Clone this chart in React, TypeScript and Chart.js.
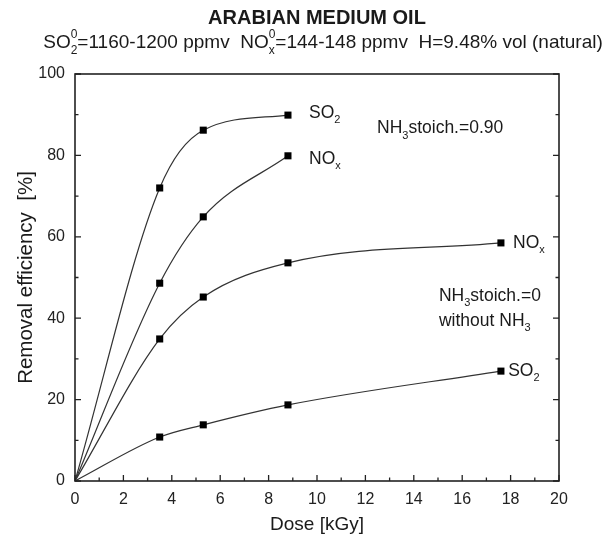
import { useEffect, useRef } from "react";
import { Chart, registerables } from "chart.js";

Chart.register(...registerables);

// ---------- data ----------
const doseStoich = [0, 3.5, 5.3, 8.8];
const so2Stoich = [0, 72.0, 86.2, 89.9];
const noxStoich = [0, 48.6, 64.9, 79.9];

const doseNoNH3 = [0, 3.5, 5.3, 8.8, 17.6];
const noxNoNH3 = [0, 34.9, 45.2, 53.6, 58.5];
const so2NoNH3 = [0, 10.8, 13.8, 18.7, 27.0];

const xTickValues = [0, 2, 4, 6, 8, 10, 12, 14, 16, 18, 20];
const yTickValues = [0, 20, 40, 60, 80, 100];

const titleText = "ARABIAN MEDIUM OIL";
const xTitle = "Dose [kGy]";
const yTitle = "Removal efficiency  [%]";

type Part = { t: string; sub?: string; sup?: string };

const subtitleParts: Part[] = [
  { t: "SO", sub: "2", sup: "0" },
  { t: "=1160-1200 ppmv  NO", sub: "x", sup: "0" },
  { t: "=144-148 ppmv  H=9.48% vol (natural)" },
];

// annotation anchors in data coordinates (left edge, vertical centre)
const annotations: { x: number; y: number; parts: Part[] }[] = [
  { x: 9.67, y: 90.4, parts: [{ t: "SO", sub: "2" }] },
  { x: 9.67, y: 79.1, parts: [{ t: "NO", sub: "x" }] },
  { x: 12.48, y: 86.7, parts: [{ t: "NH", sub: "3" }, { t: "stoich.=0.90" }] },
  { x: 18.1, y: 58.5, parts: [{ t: "NO", sub: "x" }] },
  { x: 15.04, y: 45.5, parts: [{ t: "NH", sub: "3" }, { t: "stoich.=0" }] },
  { x: 15.04, y: 39.3, parts: [{ t: "without NH", sub: "3" }] },
  { x: 17.9, y: 27.0, parts: [{ t: "SO", sub: "2" }] },
];

const FONT = "'Liberation Sans', Arial, Helvetica, sans-serif";
const INK = "#1a1a1a";

function richWidth(ctx: CanvasRenderingContext2D, parts: Part[], size: number) {
  const small = Math.round(size * 0.62);
  let w = 0;
  for (const p of parts) {
    ctx.font = `${size}px ${FONT}`;
    w += ctx.measureText(p.t).width;
    ctx.font = `${small}px ${FONT}`;
    const ws = Math.max(
      p.sub ? ctx.measureText(p.sub).width : 0,
      p.sup ? ctx.measureText(p.sup).width : 0
    );
    w += ws;
  }
  return w;
}

function drawRich(
  ctx: CanvasRenderingContext2D,
  parts: Part[],
  x: number,
  y: number,
  size: number,
  align: "left" | "center"
) {
  const small = Math.round(size * 0.62);
  let cx = align === "center" ? x - richWidth(ctx, parts, size) / 2 : x;
  ctx.fillStyle = INK;
  ctx.textBaseline = "middle";
  ctx.textAlign = "left";
  for (const p of parts) {
    ctx.font = `${size}px ${FONT}`;
    ctx.fillText(p.t, cx, y);
    cx += ctx.measureText(p.t).width;
    ctx.font = `${small}px ${FONT}`;
    let ws = 0;
    if (p.sub) {
      ctx.fillText(p.sub, cx, y + size * 0.42);
      ws = Math.max(ws, ctx.measureText(p.sub).width);
    }
    if (p.sup) {
      ctx.fillText(p.sup, cx, y - size * 0.42);
      ws = Math.max(ws, ctx.measureText(p.sup).width);
    }
    cx += ws;
  }
}

const decorPlugin = {
  id: "decor",
  afterDraw(chart: any) {
    const ctx: CanvasRenderingContext2D = chart.ctx;
    const { left, right, top, bottom } = chart.chartArea;
    const xs = chart.scales.x;
    const ys = chart.scales.y;
    ctx.save();
    // frame
    ctx.strokeStyle = "#222";
    ctx.lineWidth = 1.6;
    ctx.strokeRect(left, top, right - left, bottom - top);
    // ticks (inward)
    ctx.lineWidth = 1.3;
    ctx.beginPath();
    for (let v = 0; v <= 20; v += 1) {
      const px = xs.getPixelForValue(v);
      const len = v % 2 === 0 ? 6 : 3.5;
      ctx.moveTo(px, bottom);
      ctx.lineTo(px, bottom - len);
    }
    for (let v = 0; v <= 100; v += 10) {
      const py = ys.getPixelForValue(v);
      const len = v % 20 === 0 ? 6 : 3.5;
      ctx.moveTo(left, py);
      ctx.lineTo(left + len, py);
      ctx.moveTo(right, py);
      ctx.lineTo(right - len, py);
    }
    ctx.stroke();

    // titles
    ctx.fillStyle = INK;
    ctx.textAlign = "center";
    ctx.textBaseline = "middle";
    ctx.font = `bold 20px ${FONT}`;
    ctx.fillText(titleText, 317, 18);
    drawRich(ctx, subtitleParts, 323, 43, 19, "center");

    // annotations
    for (const a of annotations) {
      drawRich(ctx, a.parts, xs.getPixelForValue(a.x), ys.getPixelForValue(a.y), 17.5, "left");
    }
    ctx.restore();
  },
};

function lineDataset(xs: number[], ys: number[]) {
  return {
    data: xs.map((x, i) => ({ x, y: ys[i] })),
    borderColor: "#333",
    borderWidth: 1.2,
    backgroundColor: "#000",
    pointBackgroundColor: "#000",
    pointBorderColor: "#000",
    pointBorderWidth: 0,
    pointStyle: "rect",
    pointRadius: xs.map((x) => (x === 0 ? 0 : 5)),
    pointHoverRadius: xs.map((x) => (x === 0 ? 0 : 5)),
    cubicInterpolationMode: "monotone",
    fill: false,
  };
}

export default function App() {
  const ref = useRef<HTMLCanvasElement | null>(null);

  useEffect(() => {
    if (!ref.current) return;
    const chart = new Chart(ref.current, {
      type: "line",
      data: {
        datasets: [
          lineDataset(doseStoich, so2Stoich),
          lineDataset(doseStoich, noxStoich),
          lineDataset(doseNoNH3, noxNoNH3),
          lineDataset(doseNoNH3, so2NoNH3),
        ] as any,
      },
      options: {
        responsive: false,
        animation: false,
        events: [],
        layout: { padding: { left: 0, top: 74, right: 48, bottom: 0 } },
        plugins: {
          legend: { display: false },
          tooltip: { enabled: false },
          title: { display: false },
        },
        scales: {
          x: {
            type: "linear",
            min: 0,
            max: 20,
            afterBuildTicks: (scale: any) => {
              scale.ticks = xTickValues.map((v) => ({ value: v }));
            },
            afterFit: (scale: any) => {
              scale.height = 59;
            },
            grid: { display: false, drawTicks: false },
            border: { display: false },
            ticks: {
              padding: 9,
              color: "#222",
              font: { family: FONT, size: 16 },
              maxRotation: 0,
              autoSkip: false,
            },
            title: {
              display: true,
              text: xTitle,
              color: INK,
              font: { family: FONT, size: 19 },
              padding: { top: 0, bottom: 4 },
            },
          },
          y: {
            type: "linear",
            min: 0,
            max: 100,
            afterBuildTicks: (scale: any) => {
              scale.ticks = yTickValues.map((v) => ({ value: v }));
            },
            afterFit: (scale: any) => {
              scale.width = 75;
            },
            grid: { display: false, drawTicks: false },
            border: { display: false },
            ticks: {
              padding: 10,
              color: "#222",
              font: { family: FONT, size: 16 },
              autoSkip: false,
            },
            title: {
              display: true,
              text: yTitle,
              color: INK,
              font: { family: FONT, size: 20.5 },
              padding: { top: 14, bottom: 0 },
            },
          },
        },
      } as any,
      plugins: [decorPlugin],
    });
    return () => chart.destroy();
  }, []);

  return (
    <div style={{ position: "absolute", left: 0, top: 0, width: 607, height: 540, background: "#fff" }}>
      <canvas ref={ref} width={607} height={540} style={{ width: 607, height: 540, display: "block" }} />
    </div>
  );
}
